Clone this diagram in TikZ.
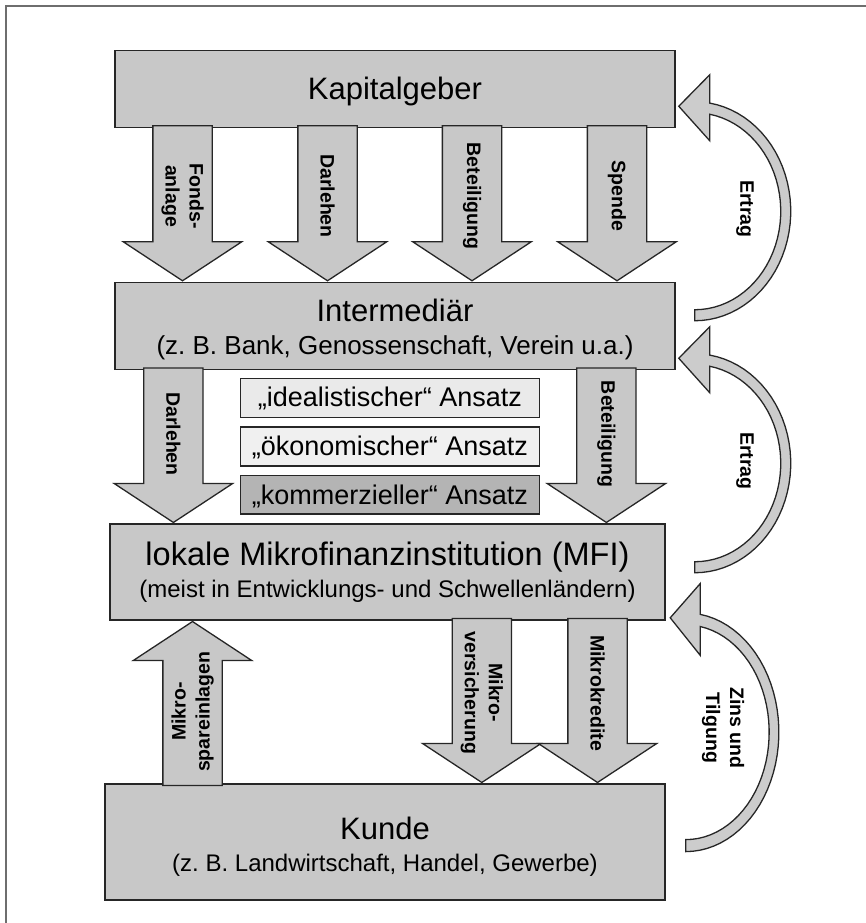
\documentclass[tikz,border=0pt]{standalone}
\usepackage{fontspec}
\setmainfont{Liberation Sans}
\usetikzlibrary{shapes.arrows,calc}
\definecolor{kastengrau}{HTML}{C8C8C8}
\definecolor{bogengrau}{HTML}{CCCCCC}
\definecolor{idealgrau}{HTML}{EAEAEA}
\definecolor{oekongrau}{HTML}{F0F0F0}
\definecolor{kommerzgrau}{HTML}{B4B4B4}
\definecolor{rahmengrau}{HTML}{6E6E6E}
\tikzset{
  kasten/.style={draw=black!85, fill=kastengrau, line width=1.5pt, inner sep=0pt},
  ansatzkasten/.style={kasten, minimum width=299pt, minimum height=39pt},
  titel/.style={font=\fontsize{31}{36}\selectfont, anchor=base, inner sep=0pt},
  untertitel/.style={font=\fontsize{24}{28}\selectfont, anchor=base, inner sep=0pt},
  ansatztext/.style={font=\fontsize{27}{30}\selectfont, anchor=base, inner sep=0pt},
  pfeil/.style={single arrow, draw=black!85, fill=kastengrau, line width=1.3pt, inner xsep=0pt,
    inner ysep=29pt, minimum width=117pt, single arrow head extend=29.5pt, single arrow tip angle=113.3},
  pfeiltext/.style={font=\fontsize{19.5}{24}\selectfont\bfseries, align=center, inner sep=0pt},
  bogenpfeil/.style={draw=black!85, fill=bogengrau, line width=1.3pt},
  bogen/.pic={
    \draw[bogenpfeil] plot[domain=90:-81, samples=40, variable=\winkel] ({96*cos(\winkel)},{109.5*sin(\winkel)})
      -- (15,-136.5) -- (-16,-105) -- (15,-70.5)
      -- plot[domain=-80:90, samples=40, variable=\winkel] ({86*cos(\winkel)},{98.5*sin(\winkel)}) -- cycle;
  }
}
\begin{document}
\begin{tikzpicture}[x=1pt,y=-1pt]
  \useasboundingbox (0,0) rectangle (866,923);
  \draw[rahmengrau, line width=2pt] (6,923) -- (6,6) -- (866,6);

  \node[kasten, minimum width=560pt, minimum height=76.6pt] (kapital) at (395,89) {};
  \node[kasten, minimum width=560pt, minimum height=87.2pt] (inter) at (395,325.9) {};
  \node[kasten, minimum width=555pt, minimum height=96pt] (mfi) at (387.5,572) {};
  \node[kasten, minimum width=560pt, minimum height=116pt] (kunde) at (385,842) {};

  \node[titel] (kapitaltxt) at (395,100) {Kapitalgeber};
  \node[titel] (intertxt) at (395,321) {Intermediär};
  \node[untertitel, font=\fontsize{26}{30}\selectfont] (intersub) at (395,354) {(z.~B. Bank, Genossenschaft, Verein u.a.)};
  \node[titel, font=\fontsize{32.5}{36}\selectfont] (mfitxt) at (387.5,565) {lokale Mikrofinanzinstitution (MFI)};
  \node[untertitel] (mfisub) at (387.5,597.5) {(meist in Entwicklungs- und Schwellenländern)};
  \node[titel] (kundetxt) at (385,839) {Kunde};
  \node[untertitel] (kundesub) at (385,871) {(z.~B. Landwirtschaft, Handel, Gewerbe)};

  \node[pfeil, rotate=-90, minimum height=155pt, anchor=tip] (fonds) at (182.5,0 |- inter.north) {};
  \node[pfeil, rotate=-90, minimum height=155pt, anchor=tip] (darlehen) at (327.5,0 |- inter.north) {};
  \node[pfeil, rotate=-90, minimum height=155pt, anchor=tip] (beteiligung) at (472,0 |- inter.north) {};
  \node[pfeil, rotate=-90, minimum height=155pt, anchor=tip] (spende) at (617,0 |- inter.north) {};
  \node[pfeiltext, rotate=-90] (fondstxt) at (182.5,196) {Fonds-\\anlage};
  \node[pfeiltext, rotate=-90] (darlehentxt) at (327.5,196) {Darlehen};
  \node[pfeiltext, rotate=-90] (beteiligungtxt) at (472,196) {Beteiligung};
  \node[pfeiltext, rotate=-90] (spendetxt) at (617,196) {Spende};

  \node[pfeil, rotate=-90, minimum height=154.5pt, anchor=tip] (mfidarlehen) at (173.4,0 |- mfi.north) {};
  \node[pfeil, rotate=-90, minimum height=154.5pt, anchor=tip] (mfibeteiligung) at (606.4,0 |- mfi.north) {};
  \node[pfeiltext, rotate=-90] (mfidarlehentxt) at (173.4,434) {Darlehen};
  \node[pfeiltext, rotate=-90] (mfibeteiligungtxt) at (606.4,434) {Beteiligung};

  \node[ansatzkasten, fill=idealgrau] (ideal) at (390,397.75) {};
  \node[ansatzkasten, fill=oekongrau] (oekon) at (390,446.5) {};
  \node[ansatzkasten, fill=kommerzgrau, minimum height=38.5pt] (kommerz) at (390,494.75) {};
  \node[ansatztext] (idealtxt) at (390,406.5) {„idealistischer“ Ansatz};
  \node[ansatztext] (oekontxt) at (390,455.5) {„ökonomischer“ Ansatz};
  \node[ansatztext] (kommerztxt) at (390,504) {„kommerzieller“ Ansatz};

  \node[pfeil, rotate=90, minimum height=164pt, anchor=tip] (spar) at (192.5,0 |- mfi.south) {};
  \node[pfeil, rotate=-90, minimum height=164pt, anchor=tip] (versicherung) at (481.8,0 |- kunde.north) {};
  \node[pfeil, rotate=-90, minimum height=164pt, anchor=tip] (kredite) at (597.5,0 |- kunde.north) {};
  \node[pfeiltext, rotate=90] (spartxt) at (192.5,711.7) {Mikro-\\spareinlagen};
  \node[pfeiltext, rotate=-90] (versicherungtxt) at (481.8,692.7) {Mikro-\\versicherung};
  \node[pfeiltext, rotate=-90] (kreditetxt) at (597.5,693) {Mikrokredite};

  \pic (ertragoben) at ($(kapital.south east)+(19,83.2)$) {bogen};
  \pic (ertragmitte) at ($(inter.south east)+(19,93)$) {bogen};
  \pic[xscale=0.97, yscale=1.09] (zins) at ($(mfi.south east)+(20,111.5)$) {bogen};
  \node[pfeiltext, rotate=-90] (ertragobentxt) at (745,209) {Ertrag};
  \node[pfeiltext, rotate=-90] (ertragmittetxt) at (745,461) {Ertrag};
  \node[pfeiltext, rotate=-90] (zinstxt) at (723,728) {Zins und\\Tilgung};
\end{tikzpicture}
\end{document}
